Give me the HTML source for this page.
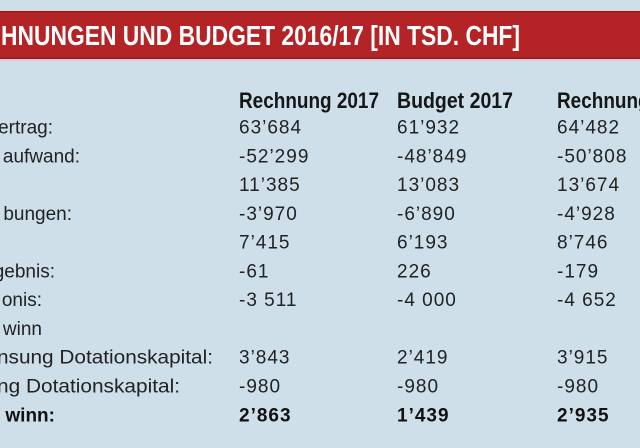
<!DOCTYPE html>
<html>
<head>
<meta charset="utf-8">
<style>
html,body{margin:0;padding:0;}
body{width:640px;height:448px;overflow:hidden;background:#cfdfe9;}
svg{display:block;}
.t{font-family:"Liberation Sans",sans-serif;font-size:19px;fill:#202224;}
.n{letter-spacing:1px;}
.b{font-weight:bold;fill:#111;}
.h{font-family:"Liberation Sans Narrow","Liberation Sans",sans-serif;font-weight:bold;font-size:22px;fill:#141618;}
.title{font-family:"Liberation Sans Narrow","Liberation Sans",sans-serif;font-weight:bold;font-size:28px;fill:#fff;}
</style>
</head>
<body>
<svg width="640" height="448" viewBox="0 0 640 448" xmlns="http://www.w3.org/2000/svg">
  <rect x="0" y="0" width="640" height="448" fill="#cfdfe9"/>
  <!-- red title bar -->
  <rect x="0" y="10" width="640" height="1" fill="#e9c9cc"/>
  <rect x="0" y="11" width="640" height="48" fill="#b42326"/>
  <rect x="0" y="11" width="640" height="1.5" fill="#8f1c20"/>
  <rect x="0" y="57.5" width="640" height="1.5" fill="#8f1c20"/>
  <rect x="0" y="59" width="640" height="1.5" fill="#e2c4c8"/>
  <text class="title" x="1" y="45" textLength="519" lengthAdjust="spacingAndGlyphs">HNUNGEN UND BUDGET 2016/17 [IN TSD. CHF]</text>

  <!-- column headers -->
  <text class="h" x="239" y="108" textLength="140" lengthAdjust="spacingAndGlyphs">Rechnung 2017</text>
  <text class="h" x="397" y="108" textLength="116" lengthAdjust="spacingAndGlyphs">Budget 2017</text>
  <text class="h" x="557" y="108" textLength="140" lengthAdjust="spacingAndGlyphs">Rechnung 2016</text>

  <!-- labels -->
  <g class="t" text-anchor="end">
    <text x="53" y="133.5">ertrag:</text>
    <text x="80" y="162.3">aufwand:</text>
    <text x="72" y="219.8">bungen:</text>
    <text x="55" y="277.4">gebnis:</text>
    <text x="42" y="306.2">onis:</text>
    <text x="42" y="335">winn</text>
    <text x="213" y="363.7" textLength="216" lengthAdjust="spacingAndGlyphs">nsung Dotationskapital:</text>
    <text x="180" y="392.5" textLength="183" lengthAdjust="spacingAndGlyphs">ng Dotationskapital:</text>
    <text x="55" y="421.3" class="b">winn:</text>
  </g>

  <!-- column 1 -->
  <g class="t n">
    <text x="239" y="133.5">63’684</text>
    <text x="239" y="162.3">-52’299</text>
    <text x="239" y="191.1">11’385</text>
    <text x="239" y="219.8">-3’970</text>
    <text x="239" y="248.6">7’415</text>
    <text x="239" y="277.4">-61</text>
    <text x="239" y="306.2">-3 511</text>
    <text x="239" y="363.7">3’843</text>
    <text x="239" y="392.5">-980</text>
    <text x="239" y="421.3" class="b">2’863</text>
  </g>

  <!-- column 2 -->
  <g class="t n">
    <text x="397" y="133.5">61’932</text>
    <text x="397" y="162.3">-48’849</text>
    <text x="397" y="191.1">13’083</text>
    <text x="397" y="219.8">-6’890</text>
    <text x="397" y="248.6">6’193</text>
    <text x="397" y="277.4">226</text>
    <text x="397" y="306.2">-4 000</text>
    <text x="397" y="363.7">2’419</text>
    <text x="397" y="392.5">-980</text>
    <text x="397" y="421.3" class="b">1’439</text>
  </g>

  <!-- column 3 -->
  <g class="t n">
    <text x="557" y="133.5">64’482</text>
    <text x="557" y="162.3">-50’808</text>
    <text x="557" y="191.1">13’674</text>
    <text x="557" y="219.8">-4’928</text>
    <text x="557" y="248.6">8’746</text>
    <text x="557" y="277.4">-179</text>
    <text x="557" y="306.2">-4 652</text>
    <text x="557" y="363.7">3’915</text>
    <text x="557" y="392.5">-980</text>
    <text x="557" y="421.3" class="b">2’935</text>
  </g>
</svg>
</body>
</html>
